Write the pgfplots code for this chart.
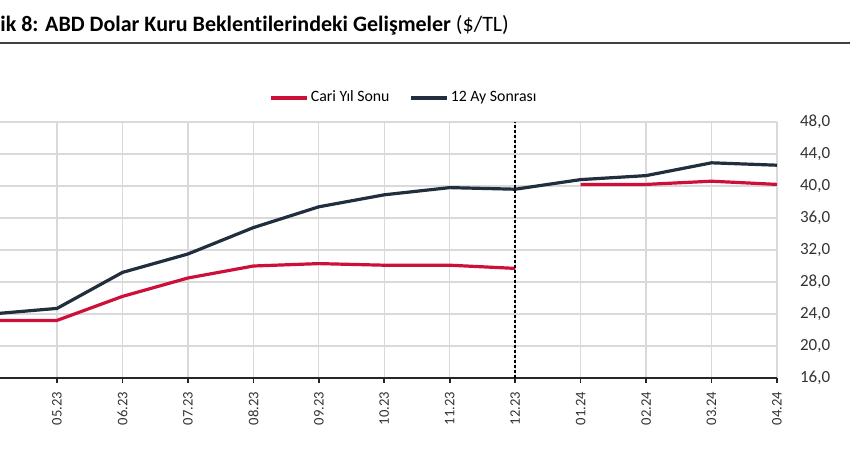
\documentclass[border=0pt]{standalone}
\usepackage{fontspec}
\setmainfont{Carlito}[Ligatures={NoCommon}]
\usepackage{pgfplots}
\pgfplotsset{compat=1.18}
\definecolor{cred}{RGB}{204,16,58}
\definecolor{cdark}{RGB}{33,46,62}
\definecolor{cgrid}{RGB}{217,217,217}
\begin{document}
\begin{tikzpicture}
% title
\node[anchor=base west, inner sep=0pt, font=\fontsize{11bp}{13bp}\selectfont] at (0bp,-15.5bp) {\textbf{ik 8: ABD Dolar Kuru Beklentilerindeki Gelişmeler} (\$/TL)};
\draw[color=black!75, line width=1bp] (0bp,-21.5bp) -- (425bp,-21.5bp);
\begin{axis}[
  at={(0bp,-189bp)}, anchor=south west,
  scale only axis, width=388.5bp, height=128bp,
  xmin=0.129, xmax=12, ymin=16, ymax=48,
  axis x line*=bottom, axis y line*=right,
  y axis line style={draw=none},
  x axis line style={draw=black!85, line width=1bp},
  xtick={1,...,12},
  xticklabels={05.23,06.23,07.23,08.23,09.23,10.23,11.23,12.23,01.24,02.24,03.24,04.24},
  ytick={16,20,...,48},
  grid=major, grid style={cgrid, line width=0.6bp},
  tick align=outside,
  x tick style={draw=black!85, line width=0.8bp},
  y tick style={draw=none},
  major tick length=2.5bp,
  xticklabel style={font=\fontsize{7.3bp}{9bp}\selectfont, text=black!80, rotate=90, anchor=east, xshift=-1bp},
  yticklabel style={font=\fontsize{8.5bp}{10bp}\selectfont, text=black!80, anchor=west, xshift=5.5bp},
  /pgf/number format/.cd, fixed, fixed zerofill, precision=1, use comma, assume math mode=true,
  /pgfplots/.cd,
  unbounded coords=jump,
  clip=true,
  legend columns=2,
  legend style={at={(axis description cs:0.52,1.094)}, anchor=center, draw=none, fill=none,
    font=\fontsize{7.9bp}{9bp}\selectfont, inner sep=0pt,
    nodes={inner sep=1bp},
    /tikz/every even column/.append style={column sep=9bp}},
  legend cell align=left,
  legend image code/.code={\draw[#1] (0bp,0bp) -- (18bp,0bp);},
]
\addplot[cred, line width=1.6bp] coordinates {
(0,23.2) (1,23.2) (2,26.2) (3,28.5) (4,30.0) (5,30.3) (6,30.1) (7,30.1) (8,29.7)
(8.5,nan)
(9,40.2) (10,40.2) (11,40.6) (12,40.2)};
\addlegendentry{Cari Yıl Sonu}
\addplot[cdark, line width=1.6bp] coordinates {
(0,24.0) (1,24.7) (2,29.2) (3,31.5) (4,34.8) (5,37.4) (6,38.9) (7,39.8) (8,39.6)
(9,40.8) (10,41.3) (11,42.9) (12,42.6)};
\addlegendentry{12 Ay Sonrası}
\addplot[forget plot, black, line width=0.7bp, dash pattern=on 1.5bp off 1bp] coordinates {(8,16) (8,48)};
\end{axis}
\pgfresetboundingbox
\path[use as bounding box] (0bp,0bp) rectangle (425bp,-225bp);
\end{tikzpicture}
\end{document}
